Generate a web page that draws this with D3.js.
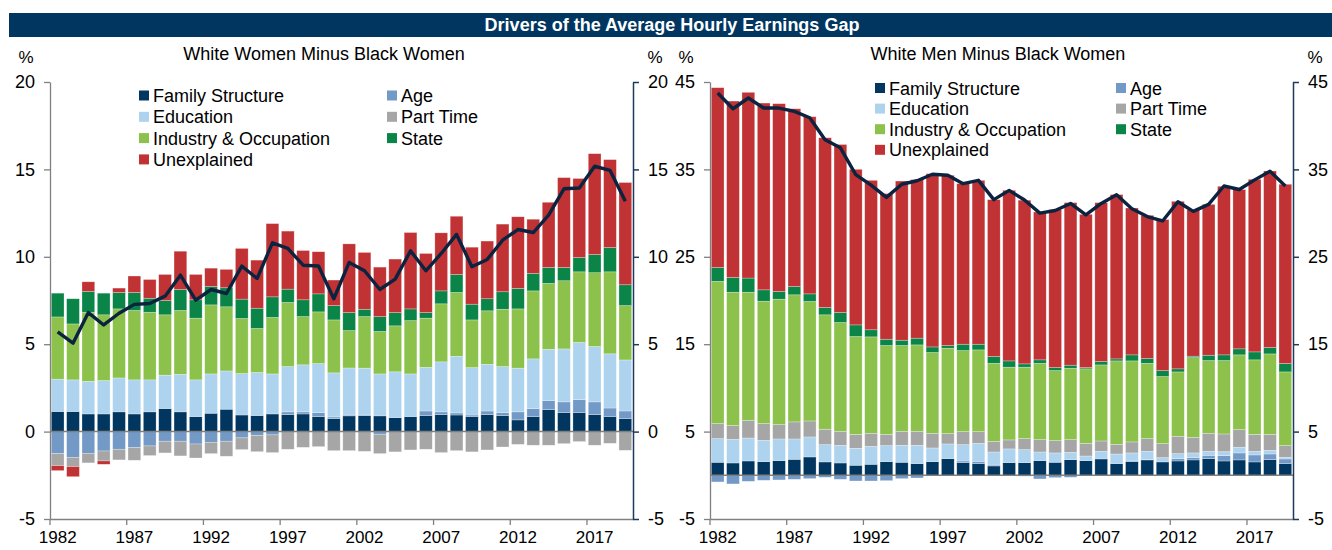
<!DOCTYPE html>
<html>
<head>
<meta charset="utf-8">
<script src="https://cdn.jsdelivr.net/npm/d3@7"></script>
<style>
  body { margin: 0; background: #fff; }
  svg { font-family: "Liberation Sans", Arial, sans-serif; }
</style>
</head>
<body>
<div id="chart"></div>
<script>
// Years on the x axis
var years = d3.range(1982, 2020);
var yearTicks = [1982, 1987, 1992, 1997, 2002, 2007, 2012, 2017];

// White Women Minus Black Women, % points
var wwFamily = [1.15,1.15,1.01,1.01,1.13,1.01,1.13,1.32,1.13,0.86,1.05,1.28,0.95,0.92,1.01,0.97,1.01,0.86,0.74,0.90,0.92,0.90,0.80,0.86,0.92,0.97,0.95,0.86,0.97,0.92,0.67,0.86,1.26,1.09,1.09,0.97,0.86,0.74];
var wwAge = [-1.26,-1.47,-1.24,-1.11,-1.01,-0.92,-0.82,-0.55,-0.55,-0.71,-0.61,-0.55,-0.36,-0.23,-0.19,0.16,0.12,0.23,0.10,0.05,0.03,-0.15,0,0,0.26,0.16,0.12,0.09,0.21,0.17,0.46,0.46,0.51,0.61,0.74,0.73,0.49,0.44];
var wwEducation = [1.85,1.81,1.87,1.91,1.94,1.95,1.83,1.91,2.15,2.10,2.25,2.19,2.37,2.46,2.29,2.59,2.69,2.80,2.52,2.69,2.68,2.40,2.62,2.44,2.50,2.86,3.24,2.71,2.67,2.63,2.50,2.84,2.94,3.03,3.27,3.17,3.10,2.92];
var wwPartTime = [-0.69,-0.53,-0.55,-0.57,-0.61,-0.72,-0.55,-0.67,-0.84,-0.80,-0.65,-0.86,-0.67,-0.92,-1.01,-1.01,-0.90,-0.86,-1.09,-1.09,-1.13,-1.11,-1.16,-1.05,-1.01,-1.20,-1.09,-1.16,-1.05,-0.88,-0.73,-0.78,-0.78,-0.69,-0.57,-0.78,-0.67,-1.07];
var wwIndustry = [3.56,3.20,3.95,3.76,3.95,3.97,3.87,3.45,3.65,3.53,3.95,3.67,3.15,2.52,3.23,3.67,2.76,2.96,3.03,2.14,2.95,2.43,2.63,3.05,2.81,3.32,3.65,2.73,3.06,3.28,3.39,3.89,3.77,3.90,4.04,4.22,4.69,3.11];
var wwState = [1.36,1.44,1.19,1.24,0.94,1.03,0.80,0.82,1.20,1.05,1.05,1.09,1.11,1.16,1.18,0.76,0.96,1.03,0.82,1.03,0.42,0.85,0.76,0.67,0.32,0.74,1.03,0.90,0.69,1.00,1.17,1.00,0.91,0.76,0.82,1.04,1.39,1.19];
var wwUnexplained = [-0.28,-0.58,0.55,-0.19,0.25,0.94,1.07,1.49,2.19,1.45,1.05,1.05,2.90,2.75,4.19,3.32,2.82,2.41,1.46,3.93,3.25,2.83,3.06,4.37,3.38,3.32,3.33,3.26,3.30,3.87,4.10,3.10,3.73,5.14,4.52,5.77,5.03,5.85];
var wwTotal = [5.70,5.06,6.81,6.10,6.77,7.28,7.33,7.75,8.95,7.52,8.13,7.90,9.47,8.76,10.80,10.48,9.52,9.47,7.60,9.68,9.20,8.13,8.72,10.34,9.20,10.19,11.28,9.43,9.85,10.95,11.56,11.39,12.38,13.89,13.94,15.18,14.95,13.18];

// White Men Minus Black Women, % points
var wmFamily = [1.49,1.41,1.64,1.56,1.68,1.83,2.10,1.53,1.41,1.15,1.26,1.56,1.49,1.34,1.56,1.91,1.45,1.34,1.07,1.45,1.45,1.68,1.49,1.79,1.68,1.87,1.34,1.56,1.76,1.53,1.64,1.76,1.91,1.64,1.76,1.53,1.79,1.34];
var wmAge = [-0.76,-0.99,-0.69,-0.57,-0.53,-0.46,-0.38,-0.23,-0.46,-0.65,-0.65,-0.61,-0.38,-0.31,0,0,0.19,0.26,0.11,0,-0.10,-0.42,-0.27,-0.23,0,0,0,0.08,0.07,0,0.27,0.26,0.38,0.61,0.80,0.80,0.65,0.53];
var wmEducation = [2.71,2.71,2.63,2.45,2.48,2.33,2.29,1.98,2.03,1.94,2.06,1.84,1.95,2.10,1.57,1.68,1.87,2.06,1.49,1.57,1.49,0.99,1.07,0.84,0.53,0.88,1.10,0.92,0.92,0.49,0.57,0.54,0.46,0.46,0.65,0.42,0.42,0.19];
var wmPartTime = [1.72,1.57,2.03,1.91,1.64,1.95,1.83,1.76,1.60,1.60,1.49,1.29,1.60,1.60,1.68,1.18,1.49,1.34,1.22,1.03,1.26,1.41,1.41,1.45,1.45,1.18,1.11,1.26,1.45,1.61,1.99,1.79,2.06,2.02,2.02,1.94,1.83,1.34];
var wmIndustry = [16.27,15.26,14.65,14.00,14.35,14.54,13.67,13.09,12.44,11.19,11.03,10.16,9.81,9.88,9.24,9.77,9.27,9.35,8.93,8.32,8.17,8.74,8.01,8.17,8.52,8.70,9.54,9.27,8.62,7.67,7.36,9.12,8.32,8.40,8.55,8.52,9.20,8.43];
var wmState = [1.60,1.70,1.62,1.30,0.88,0.95,0.87,0.84,1.15,1.33,0.81,0.72,0.61,0.77,0.64,0.31,0.73,0.65,0.77,0.72,0.38,0.39,0.35,0.35,0.15,0.39,0.23,0.69,0.54,0.68,0.35,0.16,0.61,0.65,0.69,0.91,0.73,0.96];
var wmUnexplained = [20.56,20.17,21.25,21.37,21.49,20.34,20.27,19.42,19.22,17.80,17.10,16.66,18.21,18.14,19.82,19.48,18.37,18.75,17.95,19.52,18.73,16.92,18.07,18.60,17.53,18.18,18.80,16.80,16.39,17.28,19.17,16.77,17.26,19.29,18.22,19.75,20.20,20.51];
var wmTotal = [43.74,41.94,43.17,42.02,42.02,41.64,40.91,38.39,37.47,34.40,33.20,31.80,33.30,33.70,34.44,34.33,33.37,33.75,31.54,32.60,31.50,30.00,30.30,31.10,29.80,31.10,32.10,30.50,29.60,29.10,31.30,30.20,31.00,33.10,32.70,33.80,34.80,33.10];

var keys = ["Family Structure", "Age", "Education", "Part Time", "Industry & Occupation", "State", "Unexplained"];
var colors = {
    "Family Structure": "#00365f",
    "Age": "#7399c6",
    "Education": "#add3ef",
    "Part Time": "#a6a6a6",
    "Industry & Occupation": "#8cc14b",
    "State": "#0a8447",
    "Unexplained": "#c03233"
};

var W = 1332, H = 550;
var svg = d3.select("#chart").append("svg")
    .attr("width", W)
    .attr("height", H);

// Title bar
svg.append("rect")
    .attr("x", 9).attr("y", 13)
    .attr("width", W - 9).attr("height", 24)
    .attr("fill", "#00365f");
svg.append("text")
    .attr("x", 672).attr("y", 31)
    .attr("text-anchor", "middle")
    .attr("fill", "#fff")
    .attr("font-weight", "bold")
    .attr("font-size", "18px")
    .text("Drivers of the Average Hourly Earnings Gap");

// plain hyphen for negatives, like the original
var fmt = function(d) { return String(d); };

function drawPanel(p) {
    var rows = years.map(function(y, i) {
        return {
            year: y,
            "Family Structure": p.family[i],
            "Age": p.age[i],
            "Education": p.education[i],
            "Part Time": p.partTime[i],
            "Industry & Occupation": p.industry[i],
            "State": p.state[i],
            "Unexplained": p.unexplained[i],
            total: p.total[i]
        };
    });

    var x = d3.scaleBand()
        .domain(years)
        .range([p.left, p.right])
        .paddingInner(0.17)
        .paddingOuter(0.085);
    var step = x.step();

    var y = d3.scaleLinear()
        .domain(p.domain)
        .range([519, 82]);

    var series = d3.stack()
        .keys(keys)
        .offset(d3.stackOffsetDiverging)(rows);

    var g = svg.append("g");

    g.selectAll("g.layer")
        .data(series)
        .enter().append("g")
        .attr("class", "layer")
        .attr("fill", function(d) { return colors[d.key]; })
        .selectAll("rect")
        .data(function(d) { return d; })
        .enter().append("rect")
        .attr("x", function(d) { return x(d.data.year); })
        .attr("y", function(d) { return y(Math.max(d[0], d[1])); })
        .attr("width", x.bandwidth())
        .attr("height", function(d) { return Math.abs(y(d[0]) - y(d[1])); })
        .attr("stroke", "#fff")
        .attr("stroke-opacity", 0.45)
        .attr("stroke-width", 0.6);

    // zero line
    g.append("line")
        .attr("x1", p.left).attr("x2", p.right)
        .attr("y1", y(0)).attr("y2", y(0))
        .attr("stroke", "#7f7f7f")
        .attr("stroke-width", 1.5);

    // total line
    var line = d3.line()
        .x(function(d) { return x(d.year) + x.bandwidth() / 2; })
        .y(function(d) { return y(d.total); });
    g.append("path")
        .datum(rows)
        .attr("d", line)
        .attr("fill", "none")
        .attr("stroke", "#0c2340")
        .attr("stroke-width", 3.4)
        .attr("stroke-linejoin", "round");

    // axes
    var xAxis = g.append("g")
        .attr("transform", "translate(0,519)")
        .call(d3.axisBottom(x).tickValues(yearTicks).tickSize(6).tickSizeOuter(0).tickPadding(6));
    xAxis.selectAll(".tick line")
        .attr("x1", -step / 2).attr("x2", -step / 2);

    var yl = g.append("g")
        .attr("transform", "translate(" + p.left + ",0)")
        .call(d3.axisLeft(y).tickValues(p.ticksLeft).tickFormat(fmt).tickSize(6).tickPadding(9).tickSizeOuter(0));
    var yr = g.append("g")
        .attr("transform", "translate(" + p.right + ",0)")
        .call(d3.axisRight(y).tickValues(p.ticksRight).tickFormat(fmt).tickSize(6).tickPadding(9).tickSizeOuter(0));

    [xAxis, yl].forEach(function(a) {
        a.select(".domain").attr("stroke", "#808080").attr("stroke-width", 1.3);
        a.selectAll(".tick line").attr("stroke", "#808080").attr("stroke-width", 1.3);
    });
    yr.select(".domain").attr("stroke", "#1c3a5e").attr("stroke-width", 1.5);
    yr.selectAll(".tick line").attr("stroke", "#1c3a5e").attr("stroke-width", 1.5);

    xAxis.selectAll("text").attr("font-size", "17px").attr("fill", "#000");
    yl.selectAll("text").attr("font-size", "18px").attr("fill", "#000");
    yr.selectAll("text").attr("font-size", "18px").attr("fill", "#000");
    [xAxis, yl, yr].forEach(function(a) { a.attr("font-family", null); });

    // % labels and subtitle
    g.append("text").attr("x", p.left - 24).attr("y", 63)
        .attr("text-anchor", "middle").attr("font-size", "17px").text("%");
    g.append("text").attr("x", p.right + 22).attr("y", 63)
        .attr("text-anchor", "middle").attr("font-size", "17px").text("%");
    g.append("text").attr("x", p.subX).attr("y", 60)
        .attr("text-anchor", "middle").attr("font-size", "18px").text(p.subtitle);

    // legend
    var leg = g.selectAll("g.leg")
        .data(p.legend)
        .enter().append("g")
        .attr("class", "leg")
        .attr("transform", function(d) {
            return "translate(" + p.legX[d.col] + "," + (p.legY + d.row * p.legStep) + ")";
        });
    leg.append("rect")
        .attr("x", 0).attr("y", -5)
        .attr("width", 10).attr("height", 10)
        .attr("fill", function(d) { return colors[d.key]; });
    leg.append("text")
        .attr("x", 14).attr("y", 6.5)
        .attr("font-size", "18px")
        .text(function(d) { return d.key; });
}

var legendItems = [
    { key: "Family Structure", col: 0, row: 0 },
    { key: "Education", col: 0, row: 1 },
    { key: "Industry & Occupation", col: 0, row: 2 },
    { key: "Unexplained", col: 0, row: 3 },
    { key: "Age", col: 1, row: 0 },
    { key: "Part Time", col: 1, row: 1 },
    { key: "State", col: 1, row: 2 }
];

drawPanel({
    family: wwFamily, age: wwAge, education: wwEducation, partTime: wwPartTime,
    industry: wwIndustry, state: wwState, unexplained: wwUnexplained, total: wwTotal,
    left: 50, right: 633, domain: [-5, 20],
    ticksLeft: [-5, 0, 5, 10, 15, 20], ticksRight: [-5, 0, 5, 10, 15, 20],
    subtitle: "White Women Minus Black Women", subX: 324,
    legend: legendItems, legX: [139, 387], legY: 95.5, legStep: 21.3
});

drawPanel({
    family: wmFamily, age: wmAge, education: wmEducation, partTime: wmPartTime,
    industry: wmIndustry, state: wmState, unexplained: wmUnexplained, total: wmTotal,
    left: 710, right: 1293, domain: [-5, 45],
    ticksLeft: [-5, 5, 15, 25, 35, 45], ticksRight: [-5, 5, 15, 25, 35, 45],
    subtitle: "White Men Minus Black Women", subX: 998,
    legend: legendItems, legX: [875, 1116], legY: 88, legStep: 20.6
});
</script>
</body>
</html>
